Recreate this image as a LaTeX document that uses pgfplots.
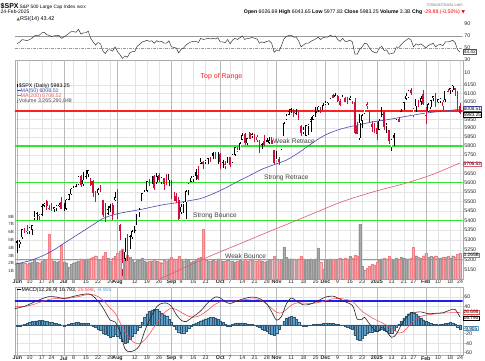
\documentclass[border=0pt]{standalone}
\usepackage{pgfplots}
\pgfplotsset{compat=1.18}
\usepackage{pgfplotstable}
\usepgfplotslibrary{fillbetween}
\usepackage{fontspec}
\setmainfont{Liberation Sans}
\newfontfamily\dejavu{DejaVu Sans}
\newcommand\fs[1]{\fontsize{#1}{#1}\selectfont}
\definecolor{cred}{HTML}{D0103A}
\definecolor{ma50}{HTML}{4848B0}
\definecolor{ma200}{HTML}{E2586E}
\definecolor{sup}{HTML}{2EE62E}
\definecolor{topc}{HTML}{FF2020}
\definecolor{volg}{HTML}{ABABAB}
\definecolor{volp}{HTML}{EBAAB2}
\definecolor{hist}{HTML}{5A9FCC}
\definecolor{rsig}{HTML}{4E7D3C}
\definecolor{gridc}{HTML}{E4E4E4}
\definecolor{monc}{HTML}{B8B8B8}
\definecolor{sigc}{HTML}{FF4A4A}
\definecolor{macdblue}{HTML}{1E1EEE}

\pgfplotstableread{
i O H L C V t r m
0 5297 5302 5234 5283 2.1 1 57 -3
1 5278 5298 5257 5291 2.0 0 60 -2
2 5315 5355 5303 5354 2.0 0 64 -1
3 5354 5362 5335 5352 2.0 3 63 1
4 5344 5376 5331 5347 1.9 2 62 3
5 5341 5365 5331 5361 2.1 0 64 5
6 5353 5376 5327 5375 2.2 0 66 7
7 5410 5448 5403 5421 2.5 0 70 8
8 5441 5442 5403 5434 2.2 1 71 9
9 5424 5432 5404 5431 2.1 2 71 10
10 5431 5488 5421 5473 2.3 0 75 10
11 5476 5490 5471 5487 2.4 0 76 9
12 5500 5506 5455 5473 2.5 3 72 8
13 5466 5479 5454 5465 5.7 3 71 6
14 5459 5490 5447 5448 2.6 3 69 5
15 5461 5472 5446 5469 2.3 0 70 4
16 5460 5483 5451 5478 2.2 0 71 3
17 5473 5490 5471 5483 2.3 0 71 2
18 5499 5524 5460 5460 4.4 3 66 0
19 5471 5490 5451 5475 2.2 0 68 -2
20 5461 5510 5452 5509 2.1 0 71 -1
21 5508 5539 5507 5537 1.5 0 74 1
22 5537 5570 5534 5567 1.9 0 77 3
23 5572 5583 5563 5573 2.1 0 77 4
24 5584 5590 5574 5577 2.2 1 76 5
25 5591 5635 5587 5633 2.3 0 81 5
26 5635 5642 5576 5585 2.6 3 73 4
27 5590 5655 5583 5615 2.4 0 75 4
28 5638 5667 5619 5631 2.5 1 75 3
29 5644 5669 5632 5667 2.6 0 78 3
30 5610 5622 5584 5588 2.7 3 66 0
31 5608 5614 5522 5545 2.8 3 60 -3
32 5543 5557 5497 5505 3.0 3 55 -6
33 5544 5570 5536 5564 2.4 0 59 -9
34 5566 5585 5550 5555 2.4 3 57 -12
35 5505 5508 5420 5427 3.0 3 45 -17
36 5428 5491 5390 5399 3.4 3 41 -20
37 5434 5475 5431 5459 2.7 0 47 -23
38 5476 5487 5445 5464 2.3 1 47 -26
39 5479 5489 5401 5436 2.7 3 45 -24
40 5505 5551 5504 5522 2.9 0 52 -20
41 5537 5566 5410 5446 3.3 3 44 -24
42 5376 5383 5302 5347 3.6 3 39 -28
43 5151 5250 5120 5186 3.9 2 33 -36
44 5206 5312 5193 5240 3.0 0 37 -40
45 5293 5330 5195 5199 3.1 3 35 -38
46 5253 5327 5253 5319 2.8 0 42 -31
47 5314 5350 5306 5344 2.4 0 44 -25
48 5352 5372 5333 5345 2.2 1 44 -18
49 5376 5436 5376 5434 2.5 0 53 -11
50 5442 5463 5420 5455 2.4 0 56 -4
51 5501 5546 5501 5543 2.7 0 60 6
52 5531 5562 5531 5554 2.3 0 61 16
53 5557 5608 5551 5608 2.2 0 63 24
54 5604 5620 5579 5597 2.3 3 61 29
55 5603 5633 5591 5620 2.3 0 62 32
56 5637 5643 5561 5571 2.5 3 58 33
57 5603 5651 5594 5635 2.3 0 62 33
58 5639 5651 5602 5616 2.2 3 60 30
59 5603 5628 5593 5625 2.1 0 61 26
60 5624 5627 5560 5592 2.4 3 58 22
61 5607 5646 5585 5591 2.3 3 58 18
62 5613 5648 5580 5648 2.6 0 62 12
63 5612 5614 5511 5529 2.8 3 52 6
64 5506 5552 5503 5520 2.6 2 51 -2
65 5530 5546 5493 5503 2.5 3 50 -9
66 5507 5523 5402 5408 2.9 3 42 -15
67 5443 5484 5434 5471 2.4 0 48 -18
68 5490 5497 5441 5496 2.3 0 50 -17
69 5496 5560 5406 5554 2.6 0 55 -13
70 5558 5600 5535 5596 2.4 0 58 -8
71 5605 5636 5602 5626 2.2 0 60 -3
72 5615 5636 5604 5633 2.3 0 61 1
73 5655 5671 5615 5634 2.5 1 61 4
74 5641 5690 5615 5618 2.7 3 59 6
75 5703 5734 5701 5714 2.8 0 66 9
76 5709 5715 5674 5703 6.4 3 64 11
77 5711 5722 5701 5718 2.4 0 65 13
78 5733 5736 5698 5732 2.3 1 66 15
79 5733 5741 5713 5722 2.3 3 65 16
80 5763 5767 5728 5745 2.4 1 66 16
81 5755 5765 5727 5738 2.3 3 65 15
82 5727 5765 5703 5762 2.6 0 67 13
83 5758 5759 5675 5709 2.6 3 60 9
84 5698 5720 5677 5710 2.3 0 60 5
85 5699 5718 5675 5700 2.3 2 59 1
86 5737 5752 5704 5751 2.4 0 64 -2
87 5738 5739 5684 5696 2.3 3 57 -2
88 5711 5757 5707 5751 2.3 0 63 1
89 5751 5796 5745 5793 2.2 0 66 3
90 5778 5796 5765 5780 2.3 2 64 4
91 5775 5823 5775 5815 2.4 0 67 4
92 5836 5871 5836 5859 2.3 0 70 4
93 5866 5870 5804 5815 2.5 3 64 3
94 5816 5845 5808 5843 2.3 0 66 2
95 5875 5879 5840 5841 2.4 3 66 1
96 5859 5872 5846 5865 2.6 0 68 1
97 5857 5867 5824 5853 2.3 3 66 -1
98 5833 5863 5821 5851 2.3 2 65 -3
99 5834 5835 5762 5797 2.5 3 58 -6
100 5813 5817 5784 5809 2.3 1 60 -9
101 5826 5862 5799 5808 2.2 3 59 -12
102 5833 5843 5823 5823 2.3 1 61 -14
103 5819 5848 5810 5832 2.4 0 62 -17
104 5833 5851 5810 5813 2.5 3 58 -21
105 5775 5775 5703 5705 2.9 3 43 -23
106 5723 5772 5723 5729 2.5 0 47 -18
107 5728 5741 5696 5712 2.3 3 45 -10
108 5722 5783 5722 5782 2.5 0 54 0
109 5855 5933 5855 5929 4.1 0 65 8
110 5947 5983 5946 5973 2.8 0 69 14
111 5977 6012 5977 5996 2.6 0 71 17
112 6008 6018 5986 6001 2.6 1 71 18
113 6003 6010 5961 5984 2.6 3 68 16
114 5986 6009 5975 5985 2.5 1 68 12
115 5989 5993 5946 5949 2.6 3 62 6
116 5913 5916 5855 5871 2.9 3 52 -1
117 5874 5909 5865 5894 2.6 0 55 -3
118 5857 5920 5854 5917 2.5 0 58 -2
119 5917 5921 5861 5918 2.4 0 58 -1
120 5937 5965 5879 5949 2.6 0 61 0
121 5947 5973 5944 5970 2.5 0 63 1
122 6000 6020 5963 5987 2.6 1 65 1
123 6001 6025 5993 6021 4.0 0 68 2
124 6015 6020 5984 5998 2.2 3 64 2
125 6003 6044 6003 6032 1.3 0 67 3
126 6040 6053 6033 6047 2.5 0 68 3
127 6042 6052 6033 6050 2.5 0 68 4
128 6069 6087 6066 6087 2.6 0 71 3
129 6089 6099 6072 6075 2.5 3 69 3
130 6081 6100 6080 6090 2.5 0 70 2
131 6084 6088 6048 6053 2.6 3 64 1
132 6058 6068 6024 6035 2.7 3 61 0
133 6060 6093 6060 6084 2.6 0 66 -1
134 6074 6079 6051 6051 2.7 3 61 -3
135 6064 6079 6036 6050 2.6 3 61 -5
136 6063 6085 6059 6074 2.9 0 63 -7
137 6052 6058 6036 6050 2.7 3 60 -10
138 6047 6071 5867 5872 3.1 3 40 -22
139 5912 5935 5866 5867 3.0 3 40 -31
140 5842 5982 5833 5931 7.0 0 48 -33
141 5941 5978 5903 5974 1.7 0 52 -28
142 5985 6040 5983 6040 1.1 0 58 -22
143 6024 6049 6007 6037 1.4 2 57 -18
144 6006 6006 5933 5971 1.6 3 50 -16
145 5921 5941 5880 5907 1.9 3 45 -15
146 5920 5930 5870 5882 1.8 3 43 -14
147 5903 5935 5834 5869 2.2 3 42 -13
148 5892 5949 5888 5942 2.4 0 50 -11
149 5983 6021 5961 5975 2.6 1 53 -9
150 5993 6000 5890 5909 2.7 3 46 -11
151 5910 5927 5874 5918 2.6 0 47 -13
152 5890 5890 5809 5827 2.9 3 40 -17
153 5789 5837 5773 5836 2.6 0 41 -18
154 5859 5871 5802 5843 2.5 1 42 -12
155 5906 5954 5906 5950 2.7 0 52 -4
156 5950 5964 5938 5937 2.6 3 51 2
157 5991 6011 5988 5997 2.8 0 56 8
158 6015 6051 6006 6049 2.7 0 60 14
159 6069 6100 6063 6086 2.6 0 63 19
160 6076 6119 6074 6119 2.6 0 66 24
161 6121 6129 6089 6101 2.7 3 63 27
162 5970 6018 5962 6012 4.1 2 52 26
163 6026 6070 5995 6067 3.0 0 57 23
164 6057 6062 6019 6039 2.8 3 55 19
165 6050 6087 6032 6071 2.7 0 57 15
166 6096 6121 6031 6041 3.0 3 54 11
167 5970 6023 5923 5994 3.3 2 50 8
168 5998 6042 5990 6037 2.8 0 54 5
169 6021 6062 6007 6061 2.9 0 56 3
170 6073 6084 6054 6084 2.8 0 58 2
171 6083 6101 6020 6026 3.0 3 52 1
172 6047 6069 6046 6066 2.7 0 55 0
173 6050 6076 6043 6069 2.7 0 56 1
174 6026 6063 6003 6052 2.8 2 54 2
175 6062 6116 6052 6115 2.8 0 60 3
176 6115 6127 6107 6114 2.9 3 60 4
177 6121 6129 6099 6129 2.7 0 61 5
178 6117 6147 6111 6144 3.0 0 63 4
179 6134 6134 6085 6118 2.8 3 59 2
180 6114 6115 6009 6013 3.2 3 47 -4
181 6027 6044 5978 5983.25 3.27 3 43.42 -9.9
}\data

\pgfplotstableread{
i v
-1 5178
5 5195
10 5218
15 5250
20 5290
25 5330
30 5370
35 5410
40 5432
45 5445
50 5456
55 5470
60 5483
65 5492
70 5503
75 5515
80 5540
85 5570
90 5605
95 5638
100 5672
105 5697
110 5722
115 5762
120 5810
125 5855
130 5885
135 5905
140 5920
145 5935
150 5945
155 5957
160 5970
165 5982
170 5991
175 5998
181 6008.51
}\maf

\pgfplotstableread{
i v
56 5096
60 5115
70 5170
80 5225
93 5291
103 5343
113 5394
123 5447
133 5499
146 5552
159 5597
170 5645
181 5706.52
}\mas

\pgfplotstableread{
i v
-1 35
3 40
6 47
10 56
13 61
16 60
19 57
22 60
25 64
29 67
31 62
34 45
36 28
38 10
40 6
42 -15
44 -52
46 -58
48 -55
50 -45
52 -15
54 10
57 39
59 46
61 47
63 40
65 22
67 10
69 7
72 18
75 30
78 48
81 60
83 58
85 50
87 46
90 52
93 57
96 60
99 57
102 45
104 28
106 10
108 18
110 45
112 58
114 52
117 43
120 45
123 52
126 60
129 62
131 58
134 50
137 42
138 28
139 12
141 12
142 16
144 2
147 -15
149 -5
150 -8
153 -27
155 -20
157 0
159 15
161 26
163 27
165 28
168 24
171 25
174 26
177 32
179 33
181 16.79
}\macd

\pgfplotstableread{
i v
-1 39
3 40
6 43
10 50
13 55
16 57
20 57
25 61
29 66
31 65
33 61
34 58
36 48
38 36
40 25
42 5
44 -14
46 -30
48 -39
50 -41
52 -33
54 -20
56 -4
58 12
60 25
61 30
63 36
65 33
67 27
69 21
71 17
73 17
75 21
78 32
81 45
84 51
88 51
91 53
94 55
97 56
100 52
103 40
106 27
108 26
110 33
112 42
114 47
117 47
120 46
123 48
126 52
129 56
132 57
135 54
137 51
139 40
141 29
143 22
145 15
148 7
151 -1
154 -11
156 -18
158 -14
160 -3
162 9
164 16
167 21
170 23
173 25
177 26
181 26.70
}\sig

\pgfplotsset{
  panel/.style={
    scale only axis, width=447.7pt, xmin=-0.94, xmax=182.1,
    axis line style={draw=gray!65, line width=0.4pt},
    major tick length=0pt, minor tick length=0pt,
    xmajorgrids, ymajorgrids,
    major grid style={draw=gridc, line width=0.35pt},
    xtick={5,10,14,23,28,33,38,48,53,58,67,72,77,87,92,97,102,112,117,122,131,136,141,153,158,162,172,177,181},
    xticklabels={10,17,24,8,15,22,29,12,19,26,9,16,23,7,14,21,28,11,18,25,9,16,23,13,21,27,10,18,24},
    extra x ticks={0,19,41,63,83,106,126,147,167},
    extra x tick labels={\textbf{Jun},\textbf{Jul},\textbf{Aug},\textbf{Sep},\textbf{Oct},\textbf{Nov},\textbf{Dec},\textbf{2025},\textbf{Feb}},
    extra x tick style={grid=major, major grid style={draw=monc, line width=0.4pt}},
    xticklabel style={font=\fs{5.3}, inner sep=1pt, text=black!85},
    yticklabel style={font=\fs{5.3}, inner sep=1.5pt, text=black!85},
    yticklabel pos=right,
  },
  noxlabels/.style={xticklabels={}, extra x tick labels={}},
  candle/.style={draw=none, mark=none, forget plot},
}

\begin{document}
\begin{tikzpicture}
\fill[white] (0pt,0pt) rectangle (485pt,360pt);

% ---------------- header
\node[anchor=base west, inner sep=0pt, font=\fs{7}\bfseries] at (0.5pt,352pt) {\$SPX};
\node[anchor=base west, inner sep=0pt, font=\fs{4.8}] at (19.5pt,352pt) {S\&P 500 Large Cap Index \fs{3.8}INDX};
\node[anchor=base west, inner sep=0pt, font=\fs{5}] at (0.5pt,347pt) {24-Feb-2025};
\node[anchor=base east, inner sep=0pt, font=\fs{5.2}] at (460pt,347pt) {\textbf{Open} 6026.69 \textbf{High} 6043.65 \textbf{Low} 5977.83 \textbf{Close} 5983.25 \textbf{Volume} 3.3B \textbf{Chg} \textcolor{red}{-29.88 (-0.50\%)}};
\node[anchor=base west, inner sep=0pt, font=\fs{4.5}\dejavu, text=red] at (461.5pt,347pt) {▼};
\node[anchor=base east, inner sep=0pt, font=\fs{4.3}, text=gray] at (463pt,353.2pt) {©StockCharts.com};

% ---------------- RSI panel
\begin{axis}[panel, noxlabels, at={(15pt,301pt)}, anchor=south west, height=45pt,
  ymin=32, ymax=106, ytick={40,50,60,70,80,90,100}, yticklabels={,50,,70,,90,}]
\addplot[draw=gray!80, line width=0.5pt] coordinates {(-1,70) (183,70)};
\addplot[draw=gray!80, line width=0.5pt, dash pattern=on 3pt off 1.2pt on 0.6pt off 1.2pt] coordinates {(-1,50) (183,50)};
\addplot[name path=r70, draw=none] coordinates {(0,70) (181,70)};
\addplot[name path=rc, draw=none] table[x=i, y expr={max(\thisrow{r},70)}] {\data};
\addplot[fill=rsig, draw=none] fill between[of=rc and r70];
\addplot[draw=gray!45!black, line width=0.5pt] table[x=i, y=r] {\data};
\end{axis}
\node[anchor=west, inner sep=1.5pt, font=\fs{5.3}, text=black!85] at (462.7pt,300pt) {30};
\node[anchor=west, inner sep=1.5pt, font=\fs{5.3}, text=black!85] at (462.7pt,287.5pt) {10};

% ---------------- price panel: grid & labels
\begin{axis}[panel, at={(15pt,81pt)}, anchor=south west, height=219pt,
  ymode=log, ymin=5105.7, ymax=6299.3,
  ytick={5150,5200,5250,5300,5350,5400,5450,5500,5550,5600,5650,5700,5750,5800,5850,5900,5950,6000,6050,6100,6150},
  yticklabels={5150,5200,5250,5300,5350,5400,5450,5500,5550,5600,5650,,5750,5800,5850,5900,5950,,6050,6100,6150}]
\addplot[draw=none] coordinates {(0,5500)};
\end{axis}

% ---------------- volume
\begin{axis}[scale only axis, width=447.7pt, height=219pt, at={(15pt,81pt)}, anchor=south west,
  xmin=-0.94, xmax=182.1, ymin=0, ymax=28.1, axis line style={draw=none},
  xtick=\empty, ytick={1,2,3,4,5,6,7,8}, yticklabels={1B,2B,3B,4B,5B,6B,7B,8B},
  yticklabel style={font=\fs{4.5}, inner sep=1pt, text=black!80}, major tick length=0pt]
\addplot[ybar, bar width=2.1pt, bar shift=0pt, fill=volg, draw=gray!85, line width=0.2pt,
  restrict expr to domain={\thisrow{t}}{0:1}] table[x=i, y=V] {\data};
\addplot[ybar, bar width=2.1pt, bar shift=0pt, fill=volp, draw=volp!75!red, line width=0.2pt,
  restrict expr to domain={\thisrow{t}}{2:3}] table[x=i, y=V] {\data};
\end{axis}

% ---------------- price data
\begin{axis}[scale only axis, width=447.7pt, height=219pt, at={(15pt,81pt)}, anchor=south west,
  xmin=-0.94, xmax=182.1, ymode=log, ymin=5105.7, ymax=6299.3, hide axis, clip=true]
\addplot[draw=topc, line width=2pt] coordinates {(-2,6000) (184,6000)};
\addplot[draw=sup, line width=2.2pt] coordinates {(-2,5800) (184,5800)};
\addplot[draw=sup, line width=1.8pt] coordinates {(-2,5600) (184,5600)};
\addplot[draw=sup, line width=1.5pt] coordinates {(-2,5400) (184,5400)};
\addplot[draw=sup, line width=1.1pt] coordinates {(-2,5200) (184,5200)};
\addplot[draw=ma200, line width=0.6pt, smooth] table[x=i, y=v] {\mas};
\addplot[draw=ma50, line width=0.6pt, smooth] table[x=i, y=v] {\maf};
% wicks
\addplot[candle, restrict expr to domain={\thisrow{t}}{0:1},
  error bars/.cd, y dir=plus, y explicit, error mark=none, error bar style={draw=black, line width=0.5pt}]
  table[x=i, y=L, y error plus expr={\thisrow{H}-\thisrow{L}}, y error minus expr={0}] {\data};
\addplot[candle, restrict expr to domain={\thisrow{t}}{2:3},
  error bars/.cd, y dir=plus, y explicit, error mark=none, error bar style={draw=cred, line width=0.5pt}]
  table[x=i, y=L, y error plus expr={\thisrow{H}-\thisrow{L}}, y error minus expr={0}] {\data};
% bodies
\addplot[candle, restrict expr to domain={\thisrow{t}}{0:1},
  error bars/.cd, y dir=both, y explicit, error mark=none, error bar style={draw=black, line width=1.7pt}]
  table[x=i, y=O, y error plus expr={max(\thisrow{C}-\thisrow{O},0)}, y error minus expr={max(\thisrow{O}-\thisrow{C},0)}] {\data};
\addplot[candle, restrict expr to domain={\thisrow{t}}{2:3},
  error bars/.cd, y dir=both, y explicit, error mark=none, error bar style={draw=cred, line width=1.7pt}]
  table[x=i, y=O, y error plus expr={max(\thisrow{C}-\thisrow{O},0)}, y error minus expr={max(\thisrow{O}-\thisrow{C},0)}] {\data};
% hollow insides
\addplot[candle, restrict expr to domain={mod(\thisrow{t},2)}{0:0},
  error bars/.cd, y dir=both, y explicit, error mark=none, error bar style={draw=white, line width=0.75pt, shorten <=0.45pt, shorten >=0.45pt}]
  table[x=i, y=O, y error plus expr={max(\thisrow{C}-\thisrow{O},0)}, y error minus expr={max(\thisrow{O}-\thisrow{C},0)}] {\data};
\end{axis}

% annotations in price panel
\node[font=\fs{7}, text=topc] at (221.5pt,283.3pt) {Top of Range};
\node[anchor=west, inner sep=0pt, font=\fs{6.6}, text=black!75] at (273pt,219pt) {Weak Retrace};
\node[anchor=west, inner sep=0pt, font=\fs{6.6}, text=black!75] at (264pt,182pt) {Strong Retrace};
\node[anchor=west, inner sep=0pt, font=\fs{6.6}, text=black!75] at (193pt,144pt) {Strong Bounce};
\node[anchor=west, inner sep=0pt, font=\fs{6.6}, text=black!75] at (225pt,104pt) {Weak Bounce};

% price legend
\node[anchor=west, inner sep=0pt, font=\fs{5.3}] at (16.5pt,274.3pt) {\rule[-0.3pt]{1.3pt}{3.4pt}\,\$SPX (Daily) 5983.25};
\node[anchor=west, inner sep=0pt, font=\fs{5.3}, text=ma50] at (16.5pt,269.2pt) {\rule[1.4pt]{4pt}{0.6pt}MA(50) 6008.51};
\node[anchor=west, inner sep=0pt, font=\fs{5.3}, text=ma200] at (16.5pt,264pt) {\rule[1.4pt]{4pt}{0.6pt}MA(200) 5706.52};
\node[anchor=west, inner sep=0pt, font=\fs{5.3}, text=black!70] at (16.5pt,258.8pt) {\textcolor{gray}{\rule[-0.3pt]{1.3pt}{3.4pt}}\,Volume 3,265,290,048};

% RSI legend
\node[anchor=west, inner sep=0pt, font=\fs{5.5}] at (16.5pt,341pt) {{\dejavu\fs{4.5}\textcolor{rsig}{▲}}RSI(14) 43.42};

% ---------------- MACD panel
\begin{axis}[panel, at={(15pt,5pt)}, anchor=south west, height=68pt,
  ymin=-65.3, ymax=81.7, ytick={-60,-40,-20,0,20,40,60}, yticklabels={-60,-40,-20,,,40,60}]
\addplot[ybar, bar width=2.3pt, bar shift=0pt, fill=hist, draw=hist!55!black, line width=0.2pt] table[x=i, y=m] {\data};
\addplot[draw=macdblue, line width=1.6pt] coordinates {(-2,52) (184,52)};
\addplot[draw=sigc, line width=0.55pt, smooth] table[x=i, y=v] {\sig};
\addplot[draw=black!85, line width=0.6pt, smooth] table[x=i, y=v] {\macd};
\end{axis}
\node[anchor=west, inner sep=0pt, font=\fs{5.2}] at (16.5pt,70pt) {\rule[1.4pt]{4pt}{0.6pt}\,MACD(12,26,9) 16.793, \textcolor{sigc}{26.698}, \textcolor{hist}{-9.905}};

% ---------------- right value boxes
\tikzset{vbox/.style={anchor=west, draw=#1, fill=white, line width=0.45pt, inner sep=0.5pt, font=\fs{4.8}}}
\node[vbox=gray!70!black] at (463pt,308.3pt) {43.42};
\node[vbox=ma50] at (463pt,251.3pt) {6008.51};
\node[vbox=black, line width=0.6pt] at (463pt,245.2pt) {5983.25};
\node[vbox=ma200] at (463pt,196pt) {5706.52};
\node[vbox=gray] at (463pt,105pt) {3.265B};
\node[vbox=sigc] at (463pt,47.8pt) {26.698};
\node[vbox=black] at (463pt,41.8pt) {16.793};
\node[vbox=hist] at (463pt,31.5pt) {-9.905};

\pgfresetboundingbox
\path[use as bounding box] (0pt,0pt) rectangle (485pt,360pt);
\end{tikzpicture}
\end{document}
